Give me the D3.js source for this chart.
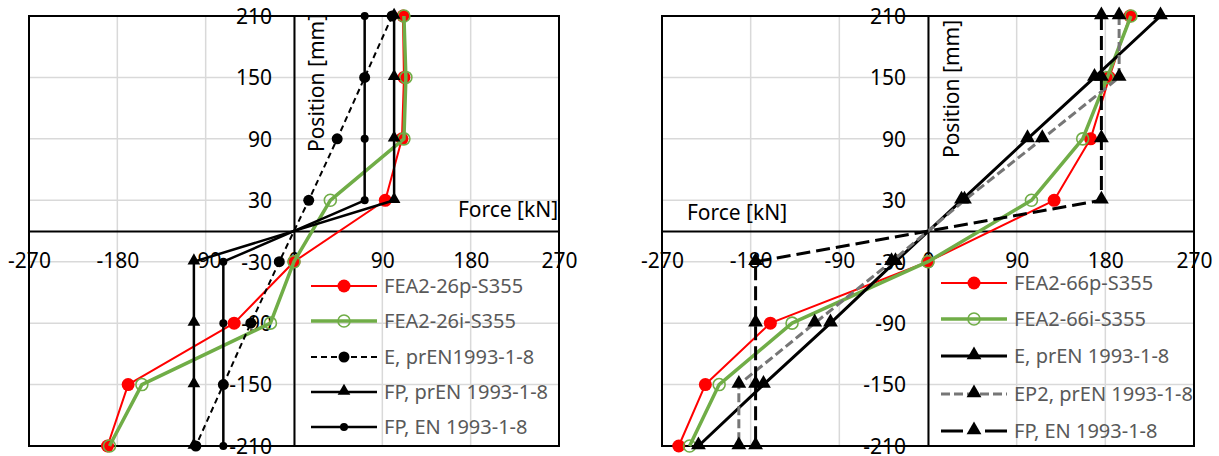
<!DOCTYPE html>
<html>
<head>
<meta charset="utf-8">
<script src="https://cdn.jsdelivr.net/npm/d3@7"></script>
<style>
  html, body { margin: 0; padding: 0; background: #fff; }
  svg { display: block; }
  text { font-family: "Noto Sans", sans-serif; }
</style>
</head>
<body>
<svg id="chart" width="1219" height="456"></svg>
<script>
// ---------- data ----------
const positions = [210, 150, 90, 30, -30, -90, -150, -210];
const xTicks = [-270, -180, -90, 0, 90, 180, 270];
const yTicks = [-210, -150, -90, -30, 30, 90, 150, 210];

// left chart (26)
const fea26p = [111, 112, 110, 93, 0, -61, -169, -190];
const fea26i = [112, 114, 112, 37, 0, -24, -155, -188];
const e26 = [100, 72, 44, 15, -15, -44, -72, -100];
const fpPr26 = [102, 102, 102, 102, -102, -102, -102, -102];
const fpEn26 = [72, 72, 72, 72, -72, -72, -72, -72];
const names26 = ["FEA2-26p-S355", "FEA2-26i-S355", "E, prEN1993-1-8", "FP, prEN 1993-1-8", "FP, EN 1993-1-8"];

// right chart (66)
const fea66p = [205, 184, 165, 128, 0, -160, -226, -253];
const fea66i = [206, 182, 157, 105, 0, -138, -212, -242];
const e66 = [236, 169, 101, 34, -33, -99, -167, -233];
const ep266 = [194, 194, 116, 37, -37, -115, -192, -192];
const fpEn66 = [176, 176, 176, 176, -175, -175, -175, -175];
const names66 = ["FEA2-66p-S355", "FEA2-66i-S355", "E, prEN 1993-1-8", "EP2, prEN 1993-1-8", "FP, EN 1993-1-8"];

// ---------- styles ----------
const RED = "#ff0000", GREEN = "#70ad47", BLACK = "#000000", GREY = "#767676";
const svg = d3.select("#chart");
const FS = 21, LFS = 20;
const fmt = d => String(d); // plain hyphen-minus like the reference

function drawChart(cfg) {
  const x = d3.scaleLinear().domain([-270, 270]).range([cfg.x0, cfg.x1]);
  const y = d3.scaleLinear().domain([-210, 210]).range([446, 16]);
  const g = svg.append("g");

  // gridlines
  g.selectAll(".gx").data(xTicks).join("line")
    .attr("x1", d => x(d)).attr("x2", d => x(d)).attr("y1", y(-210)).attr("y2", y(210))
    .attr("stroke", "#d9d9d9").attr("stroke-width", 1.5);
  g.selectAll(".gy").data(yTicks).join("line")
    .attr("x1", x(-270)).attr("x2", x(270)).attr("y1", d => y(d)).attr("y2", d => y(d))
    .attr("stroke", "#d9d9d9").attr("stroke-width", 1.5);

  // border
  g.append("rect").attr("x", x(-270)).attr("y", y(210))
    .attr("width", x(270) - x(-270)).attr("height", y(-210) - y(210))
    .attr("fill", "none").attr("stroke", "#000").attr("stroke-width", 2);

  // axes (labels)
  const ax = g.append("g").attr("transform", `translate(0,${y(0)})`)
    .call(d3.axisBottom(x).tickValues(xTicks).tickSize(0).tickFormat(fmt));
  ax.select(".domain").attr("stroke", "#000").attr("stroke-width", 2);
  ax.selectAll("text").attr("y", 30).attr("dy", "0.35em")
    .attr("font-size", FS).attr("fill", "#000").attr("font-family", "Noto Sans");

  const ay = g.append("g").attr("transform", `translate(${x(0)},0)`)
    .call(d3.axisLeft(y).tickValues(yTicks).tickSize(0).tickFormat(fmt));
  ay.select(".domain").attr("stroke", "#000").attr("stroke-width", 2);
  ay.selectAll("text").attr("x", -22).attr("dy", "0.35em")
    .attr("font-size", FS).attr("fill", "#000").attr("font-family", "Noto Sans");

  // axis titles
  g.append("text").attr("x", cfg.forceX).attr("y", cfg.forceY).attr("dy", "0.35em")
    .attr("text-anchor", "middle").attr("font-size", FS).text("Force [kN]");
  g.append("text").attr("transform", `translate(${cfg.posX},${cfg.posY}) rotate(-90)`)
    .attr("dy", "0.35em").attr("text-anchor", "middle").attr("font-size", FS).text("Position [mm]");

  // series
  const line = d3.line().x(d => x(d[0])).y(d => y(d[1]));
  cfg.series.forEach(s => {
    const pts = s.values.map((v, i) => [v, positions[i]]);
    g.append("path").attr("d", line(pts)).attr("fill", "none")
      .attr("stroke", s.color).attr("stroke-width", s.width)
      .attr("stroke-dasharray", s.dash || null).attr("stroke-linejoin", "round");
    drawMarkers(g, pts.map(p => [x(p[0]), y(p[1])]), s);
  });

  // legend
  cfg.series.forEach((s, i) => {
    const ly = cfg.legY[i];
    const lg = g.append("g");
    lg.append("line").attr("x1", cfg.legX).attr("x2", cfg.legX + 66).attr("y1", ly).attr("y2", ly)
      .attr("stroke", s.color).attr("stroke-width", s.width).attr("stroke-dasharray", s.legDash || s.dash || null);
    drawMarkers(lg, [[cfg.legX + 33, ly]], s);
    lg.append("text").attr("x", cfg.legX + 73).attr("y", ly).attr("dy", "0.35em")
      .attr("font-size", LFS).attr("fill", "#595959").text(s.name);
  });
}

function drawMarkers(g, pts, s) {
  if (s.marker === "circle") {
    g.selectAll(null).data(pts).join("circle")
      .attr("cx", d => d[0]).attr("cy", d => d[1]).attr("r", s.r)
      .attr("fill", s.fill ? s.mcolor : "none").attr("stroke", s.mcolor).attr("stroke-width", s.fill ? 0 : 1.6);
  } else {
    const sym = d3.symbol().type(d3.symbolTriangle).size(s.size || 60);
    g.selectAll(null).data(pts).join("path")
      .attr("transform", d => `translate(${d[0]},${d[1] - 1})`)
      .attr("d", sym).attr("fill", s.mcolor);
  }
}

drawChart({
  x0: 29, x1: 559,
  forceX: 508, forceY: 210, posX: 317, posY: 83,
  legX: 311, legY: [286, 321, 357, 392, 427],
  series: [
    { name: names26[0], values: fea26p, color: RED, width: 2, marker: "circle", r: 6.5, fill: true, mcolor: RED },
    { name: names26[1], values: fea26i, color: GREEN, width: 3.5, marker: "circle", r: 6, fill: false, mcolor: GREEN },
    { name: names26[2], values: e26, color: BLACK, width: 2, dash: "6,4", marker: "circle", r: 5.5, fill: true, mcolor: BLACK },
    { name: names26[3], values: fpPr26, color: BLACK, width: 2.5, marker: "tri", size: 70, mcolor: BLACK },
    { name: names26[4], values: fpEn26, color: BLACK, width: 2.5, marker: "circle", r: 4, fill: true, mcolor: BLACK }
  ]
});

drawChart({
  x0: 662, x1: 1194,
  forceX: 737, forceY: 213, posX: 952, posY: 89,
  legX: 941, legY: [283, 319, 356, 394, 431],
  series: [
    { name: names66[0], values: fea66p, color: RED, width: 2, marker: "circle", r: 6.5, fill: true, mcolor: RED },
    { name: names66[1], values: fea66i, color: GREEN, width: 3.5, marker: "circle", r: 6, fill: false, mcolor: GREEN },
    { name: names66[2], values: e66, color: BLACK, width: 3, marker: "tri", size: 95, mcolor: BLACK },
    { name: names66[3], values: ep266, color: GREY, width: 3, dash: "9,4", marker: "tri", size: 95, mcolor: BLACK },
    { name: names66[4], values: fpEn66, color: BLACK, width: 3, dash: "14,6", legDash: "22,22", marker: "tri", size: 95, mcolor: BLACK }
  ]
});
</script>
</body>
</html>
